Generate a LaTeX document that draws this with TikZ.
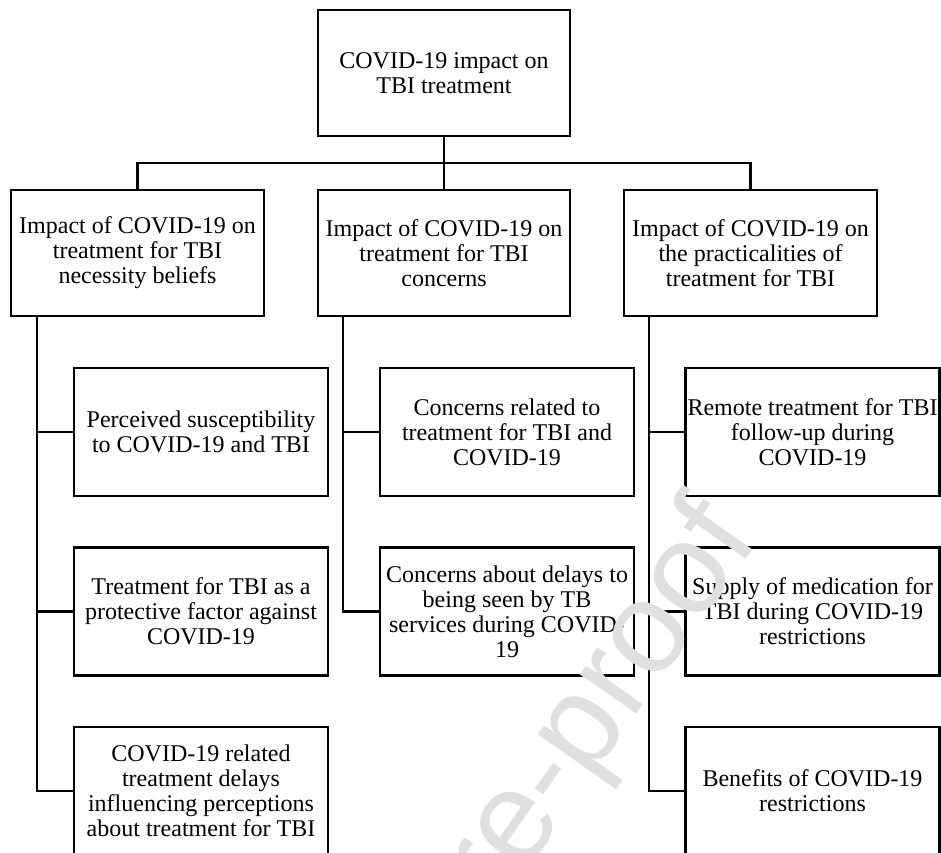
\documentclass[tikz,border=0pt]{standalone}
\usepackage{fontspec}
\setmainfont{Liberation Serif}
\newfontfamily\wmfont{Liberation Sans}
\begin{document}
\begin{tikzpicture}[x=1pt,y=-1pt,
  box/.style={draw,line width=2.2pt,fill=white,align=center,inner sep=0pt,
    font=\fontsize{24}{25}\selectfont},
  mainbox/.style={box,minimum width=252pt,minimum height=126pt},
  childbox/.style={box,minimum width=254pt,minimum height=128pt},
  link/.style={line width=2.2pt}]
\useasboundingbox (0,0) rectangle (941,852);
% top
\node[mainbox] (top) at (444,73) {COVID-19 impact on\\TBI treatment};
% second row
\node[mainbox,minimum width=253pt] (b1) at (137.5,253) {Impact of COVID-19 on\\treatment for TBI\\necessity beliefs};
\node[mainbox] (b2) at (444,253) {Impact of COVID-19 on\\treatment for TBI\\concerns};
\node[mainbox,minimum width=253pt] (b3) at (750.5,253) {Impact of COVID-19 on\\the practicalities of\\treatment for TBI};
% children left
\node[childbox] (l1) at (201,432) {Perceived susceptibility\\to COVID-19 and TBI};
\node[childbox] (l2) at (201,611.5) {Treatment for TBI as a\\protective factor against\\COVID-19};
\node[childbox] (l3) at (201,791) {COVID-19 related\\treatment delays\\influencing perceptions\\about treatment for TBI};
% children middle
\node[childbox] (m1) at (507,432) {Concerns related to\\treatment for TBI and\\COVID-19};
\node[childbox] (m2) at (507,611.5) {Concerns about delays to\\being seen by TB\\services during COVID-\\19};
% children right
\node[childbox] (r1) at (812.5,432) {Remote treatment for TBI\\follow-up during\\COVID-19};
\node[childbox] (r2) at (812.5,611.5) {Supply of medication for\\TBI during COVID-19\\restrictions};
\node[childbox] (r3) at (812.5,791) {Benefits of COVID-19\\restrictions};
% top connectors
\coordinate (bar) at (444,163);
\draw[link] (b1.north) |- (bar) -| (b3.north);
\draw[link] (top.south) -- (b2.north);
% spines
\coordinate (s1) at (37,316);
\coordinate (s2) at (343,316);
\coordinate (s3) at (649,316);
\draw[link] (s1) |- (l3.west);
\draw[link] (s1 |- l1.west) -- (l1.west);
\draw[link] (s1 |- l2.west) -- (l2.west);
\draw[link] (s2) |- (m2.west);
\draw[link] (s2 |- m1.west) -- (m1.west);
\draw[link] (s3) |- (r3.west);
\draw[link] (s3 |- r1.west) -- (r1.west);
\draw[link] (s3 |- r2.west) -- (r2.west);
% watermark
\node[anchor=base east,rotate=55,text=black!12,inner sep=0pt,
  font=\wmfont\fontsize{130}{130}\selectfont] (wm) at (760,538) {Journal Pre-proof};
\end{tikzpicture}
\end{document}
